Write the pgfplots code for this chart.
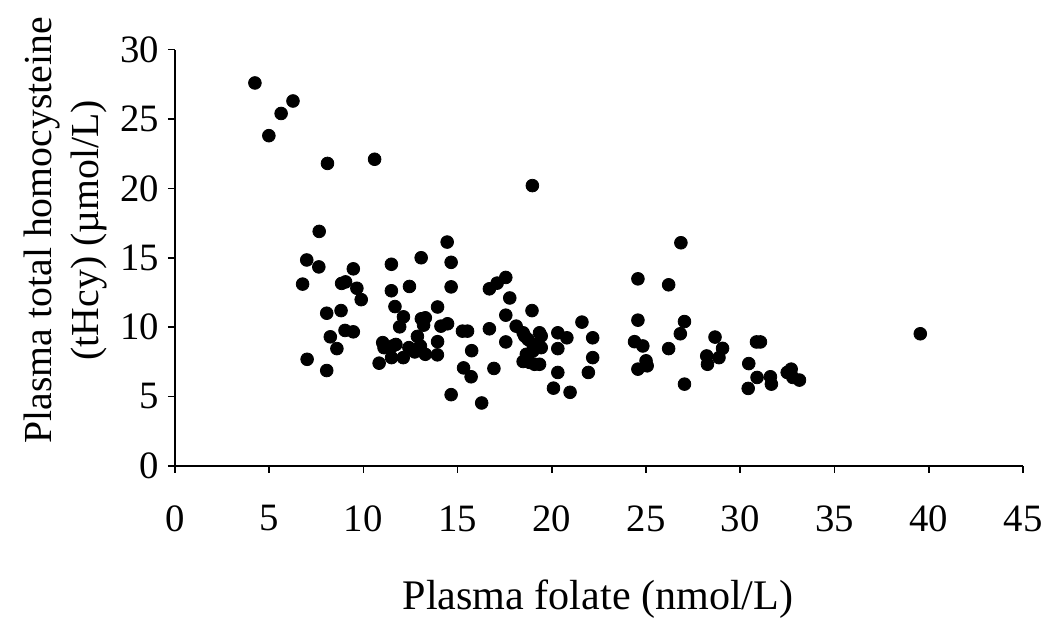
\documentclass[border=0pt]{standalone}
\usepackage{fontspec}
\setmainfont{Liberation Serif}
\usepackage{pgfplots}
\pgfplotsset{compat=1.18}
\begin{document}
\begin{tikzpicture}
\path (-88pt,-82pt) rectangle (436.5pt,234.5pt);
\begin{axis}[
  at={(0,0)}, anchor=south west,
  scale only axis,
  width=427pt, height=209.5pt,
  xmin=0, xmax=45, ymin=0, ymax=30,
  axis lines=left,
  axis line style={-, line width=0.9pt},
  xtick={0,5,...,45}, ytick={0,5,...,30},
  tick align=outside,
  major tick length=3.5pt,
  tick style={line width=0.8pt, black},
  /pgf/number format/assume math mode=true,
  ticklabel style={font=\fontsize{19.5}{22}\selectfont},
  xticklabel style={yshift=-13pt},
  yticklabel style={xshift=-1pt},
  xlabel={Plasma folate (nmol/L)},
  ylabel={Plasma total homocysteine\\(tHcy) (µmol/L)},
  xlabel style={font=\fontsize{21.2}{24}\selectfont, at={(axis description cs:0.499,-0.32)}, anchor=center},
  ylabel style={font=\fontsize{20}{24}\selectfont, align=center, at={(axis description cs:-0.129,0.566)}, anchor=center},
  clip=false,
]
\addplot[only marks, mark=*, mark size=3.2pt, mark options={fill=black, draw=black}] coordinates {
(4.25,27.6) (6.27,26.3) (5.64,25.4) (4.99,23.8) (8.1,21.8) (10.6,22.1) (18.97,20.2)
(7.66,16.9) (7.0,14.84) (7.64,14.34) (6.78,13.1) (9.47,14.2) (8.85,13.15) (9.06,13.26)
(9.66,12.8) (9.89,11.98) (11.49,14.53) (13.07,15.0) (14.45,16.13) (14.66,14.67)
(11.49,12.62) (12.45,12.93) (14.66,12.9) (8.06,11.0) (8.82,11.19) (11.68,11.48)
(13.94,11.45) (12.13,10.74) (11.93,10.02) (13.08,10.6) (13.29,10.67) (13.2,10.14)
(14.12,10.07) (14.47,10.24) (9.03,9.76) (9.47,9.66) (8.25,9.3) (8.6,8.45)
(11.03,8.88) (11.56,8.64) (11.73,8.75) (11.1,8.52) (12.42,8.52) (12.87,9.33)
(13.03,8.64) (11.5,7.8) (12.12,7.8) (12.73,8.21) (13.29,8.04) (13.94,8.95)
(13.93,8.0) (10.84,7.4) (7.02,7.68) (8.06,6.87) (14.66,5.13) (15.26,9.71)
(15.53,9.71) (15.75,8.3) (15.32,7.06) (15.72,6.42) (17.56,13.58) (17.1,13.17)
(16.69,12.76) (17.77,12.1) (18.95,11.19) (17.56,10.86) (18.11,10.07) (16.69,9.88)
(18.48,9.59) (18.56,9.36) (19.35,9.59) (19.44,9.36) (17.56,8.93) (18.74,9.11)
(19.0,8.75) (19.27,8.75) (19.44,8.52) (19.0,8.28) (18.65,8.04) (18.48,7.52)
(18.83,7.45) (19.35,7.32) (19.09,7.32) (16.93,7.02) (16.28,4.53) (20.32,9.59)
(20.8,9.23) (20.32,8.45) (21.6,10.36) (22.17,9.23) (22.17,7.8) (21.94,6.73)
(20.32,6.73) (20.09,5.6) (20.97,5.3) (24.57,13.48) (24.57,10.5) (24.39,8.95)
(24.83,8.64) (25.0,7.57) (24.57,6.97) (25.06,7.21) (26.85,16.08) (26.2,13.05)
(27.04,10.4) (26.82,9.52) (26.2,8.45) (27.04,5.89) (28.66,9.28) (29.06,8.47)
(28.87,7.8) (28.22,7.92) (28.26,7.32) (30.86,8.93) (31.07,8.93) (30.45,7.37)
(30.89,6.37) (30.42,5.58) (31.6,6.42) (31.65,5.89) (32.49,6.73) (32.7,6.97)
(32.79,6.37) (33.14,6.18) (39.55,9.52)
};
\end{axis}
\end{tikzpicture}
\end{document}
